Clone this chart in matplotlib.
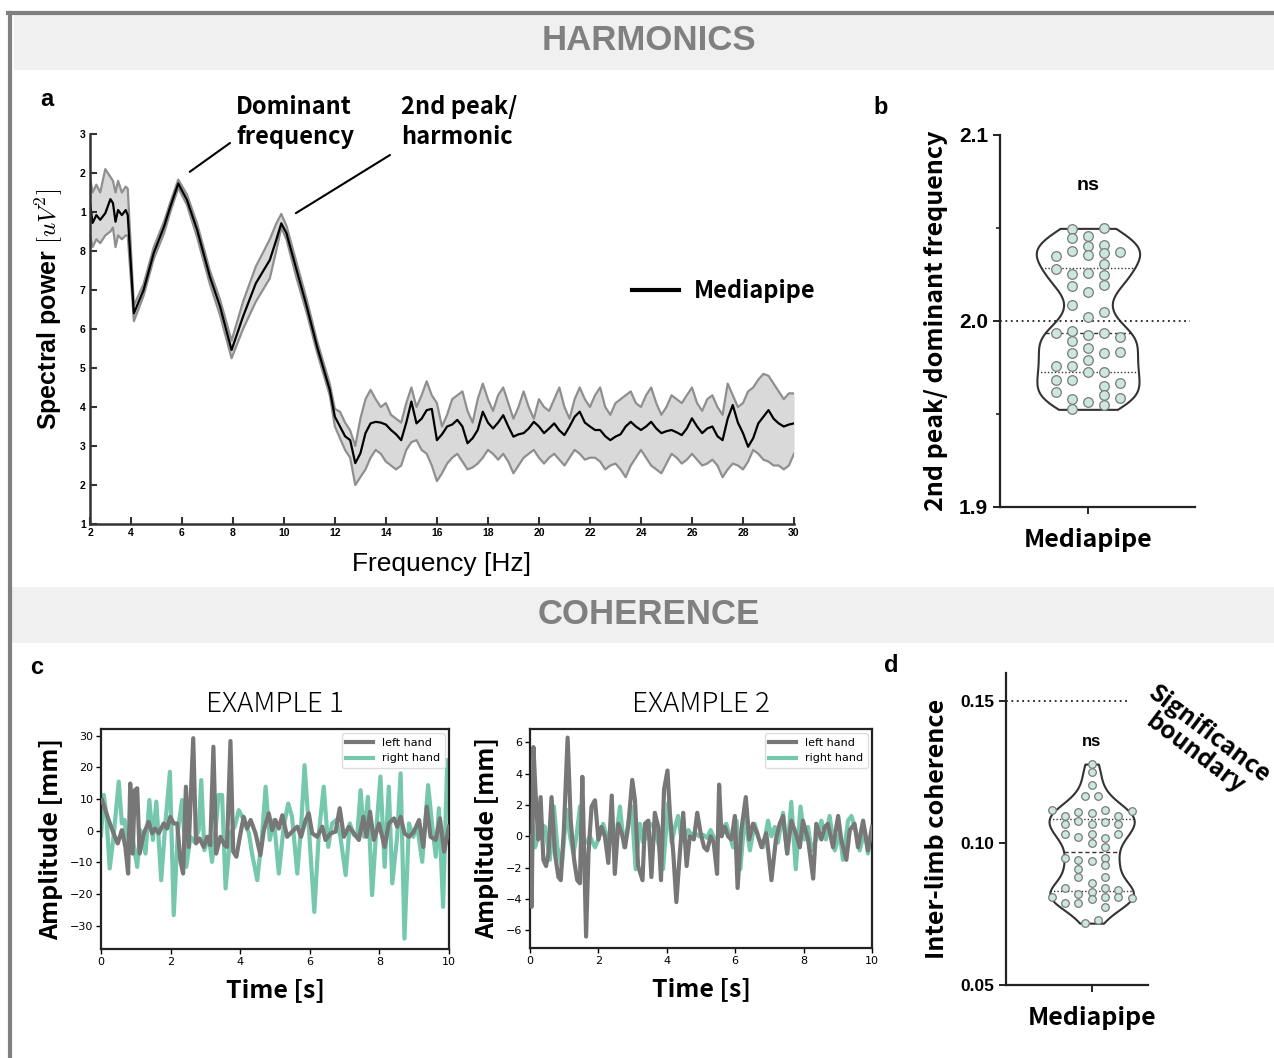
import numpy as np
import matplotlib
matplotlib.use("Agg")
import matplotlib.pyplot as plt
from matplotlib.patches import Rectangle
from matplotlib.lines import Line2D

# ---------------- data ----------------
# panel a: spectral power (mean and shaded band)
FREQ = [2.4, 2.5, 2.65, 2.8, 3.0, 3.2, 3.3, 3.4, 3.5, 3.65, 3.8, 3.88,
        4.12, 4.5, 4.9, 5.3, 5.55, 5.86, 6.2, 6.6, 7.1, 7.5, 7.95,
        8.4, 8.9, 9.45, 9.7, 9.9, 10.1, 10.5, 10.9, 11.3, 11.8,
        12.0, 12.2, 12.4, 12.6, 12.8, 13.0, 13.2, 13.4, 13.6, 13.8,
        14.0, 14.2, 14.4, 14.6, 14.8, 15.0, 15.2, 15.4, 15.6, 15.8,
        16.0, 16.2, 16.4, 16.6, 16.8, 17.0, 17.2, 17.4, 17.6, 17.8,
        18.0, 18.2, 18.4, 18.6, 18.8, 19.0, 19.2, 19.4, 19.6, 19.8,
        20.0, 20.2, 20.4, 20.6, 20.8, 21.0, 21.2, 21.4, 21.6, 21.8,
        22.0, 22.2, 22.4, 22.6, 22.8, 23.0, 23.2, 23.4, 23.6, 23.8,
        24.0, 24.2, 24.4, 24.6, 24.8, 25.0, 25.2, 25.4, 25.6, 25.8,
        26.0, 26.2, 26.4, 26.6, 26.8, 27.0, 27.2, 27.4, 27.6, 27.8,
        28.0, 28.2, 28.4, 28.6, 28.8, 29.0, 29.2, 29.4, 29.6, 29.8, 30.0]
POWER_MEAN = [9.23, 8.72, 8.92, 8.8, 8.97, 9.33, 9.23, 8.75, 9.05, 8.92, 9.05, 8.92,
              6.4, 7.0, 7.95, 8.62, 9.14, 9.73, 9.31, 8.54, 7.34, 6.57, 5.46,
              6.32, 7.17, 7.77, 8.28, 8.71, 8.46, 7.51, 6.57, 5.55, 4.44,
              3.75, 3.5, 3.25, 3.15, 2.56, 2.81, 3.33, 3.58, 3.62, 3.6,
              3.55, 3.41, 3.3, 3.15, 3.6, 4.14, 3.58, 3.7, 3.92, 3.95,
              3.15, 3.3, 3.5, 3.55, 3.67, 3.5, 3.07, 3.2, 3.41, 3.88,
              3.6, 3.45, 3.6, 3.79, 3.5, 3.24, 3.3, 3.33, 3.45, 3.62,
              3.5, 3.33, 3.45, 3.58, 3.4, 3.28, 3.5, 3.75, 3.88, 3.6,
              3.5, 3.41, 3.41, 3.25, 3.15, 3.24, 3.3, 3.5, 3.62, 3.5,
              3.41, 3.5, 3.62, 3.45, 3.33, 3.38, 3.41, 3.35, 3.28, 3.45,
              3.71, 3.5, 3.33, 3.45, 3.5, 3.25, 3.15, 3.7, 4.05, 3.6,
              3.33, 2.98, 3.2, 3.58, 3.75, 3.92, 3.7, 3.58, 3.5, 3.55, 3.58]
POWER_UPPER = [9.9, 9.5, 9.7, 9.5, 10.1, 9.9, 9.8, 9.5, 9.8, 9.5, 9.65, 9.6,
               6.6, 7.15, 8.1, 8.75, 9.25, 9.83, 9.45, 8.7, 7.5, 6.75, 5.7,
               6.7, 7.6, 8.3, 8.7, 8.95, 8.65, 7.7, 6.75, 5.7, 4.6,
               3.95, 3.88, 3.6, 3.4, 3.0, 3.7, 4.2, 4.44, 4.2, 4.0,
               4.1, 3.8, 3.7, 3.6, 4.1, 4.5, 4.0, 4.3, 4.66, 4.3,
               4.1, 3.5, 3.8, 4.2, 4.3, 4.4, 3.9, 3.6, 4.2, 4.6,
               4.2, 3.9, 4.3, 4.5, 4.1, 3.7, 4.0, 4.4, 4.0, 3.7,
               4.2, 4.0, 3.9, 4.2, 4.5, 4.0, 3.7, 4.2, 4.5, 4.2,
               4.0, 4.3, 4.5, 4.0, 3.8, 4.1, 4.2, 4.3, 4.4, 4.1,
               4.0, 4.3, 4.5, 4.1, 3.8, 4.0, 4.3, 4.2, 4.1, 4.3,
               4.5, 4.1, 3.9, 4.2, 4.3, 4.0, 3.8, 4.6, 4.3, 4.0,
               4.1, 4.4, 4.5, 4.7, 4.85, 4.8, 4.6, 4.4, 4.2, 4.35, 4.35]
POWER_LOWER = [8.4, 8.1, 8.3, 8.2, 8.4, 8.5, 8.6, 8.1, 8.4, 8.3, 8.4, 8.4,
               6.2, 6.85, 7.8, 8.45, 9.0, 9.62, 9.18, 8.35, 7.15, 6.35, 5.25,
               6.0, 6.7, 7.3, 8.0, 8.6, 8.3, 7.3, 6.4, 5.4, 4.3,
               3.5, 3.2, 2.9, 2.7, 2.0, 2.2, 2.4, 2.7, 2.9, 2.8,
               2.6, 2.5, 2.4, 2.5, 2.9, 3.1, 3.15, 2.9, 2.8, 2.5,
               2.1, 2.3, 2.55, 2.7, 2.8, 2.6, 2.4, 2.45, 2.55, 2.7,
               2.9, 2.8, 2.65, 2.8, 2.6, 2.3, 2.5, 2.7, 2.8, 2.9,
               2.7, 2.55, 2.7, 2.8, 2.65, 2.5, 2.7, 2.9, 2.8, 2.65,
               2.7, 2.7, 2.6, 2.4, 2.5, 2.55, 2.4, 2.2, 2.5, 2.7,
               2.9, 2.7, 2.5, 2.4, 2.3, 2.55, 2.8, 2.7, 2.55, 2.65,
               2.8, 2.65, 2.5, 2.55, 2.65, 2.5, 2.2, 2.4, 2.55, 2.5,
               2.4, 2.6, 2.9, 2.8, 2.65, 2.6, 2.5, 2.5, 2.4, 2.5, 2.8]
A_YTICKS = [1, 2, 3, 4, 5, 6, 7, 8, 9, 10, 11]
A_YLABELS = ["1", "2", "3", "4", "5", "6", "7", "8", "1", "2", "3"]
A_XTICKS = [2.4] + list(range(4, 31, 2))
A_XLABELS = [str(v) for v in range(2, 31, 2)]

# panel b: ratio 2nd peak / dominant frequency, per swarm column
B_COLS = [-2, -1, 0, 1, 2]
B_VALUES = [
    [2.0351, 2.0278, 1.9934, 1.9758, 1.9683, 1.9620],
    [2.0493, 2.0444, 2.0378, 2.0251, 2.0188, 2.0088, 1.9948, 1.9894, 1.9826,
     1.9760, 1.9683, 1.9581, 1.9525],
    [2.0459, 2.0403, 2.0355, 2.0260, 2.0158, 2.0023, 1.9925, 1.9857, 1.9790,
     1.9728, 1.9565],
    [2.0498, 2.0409, 2.0367, 2.0306, 2.0247, 2.0194, 2.0050, 1.9937, 1.9826,
     1.9728, 1.9652, 1.9604, 1.9550],
    [2.0369, 1.9916, 1.9835, 1.9665, 1.9588],
]

# panel c: example traces (time in s, amplitude in mm)
EX1_LEFT_T = [0.03, 0.22, 0.36, 0.48, 0.60, 0.70, 0.78, 0.84, 0.91, 0.97, 1.04, 1.11,
              1.23, 1.37, 1.47, 1.56, 1.66, 1.80, 1.90, 1.99, 2.09, 2.19, 2.28, 2.36,
              2.44, 2.52, 2.65, 2.73, 2.83, 2.95, 3.05, 3.14, 3.23, 3.31, 3.43, 3.55,
              3.62, 3.72, 3.80, 3.89, 3.99, 4.10, 4.20, 4.30, 4.44, 4.58, 4.68, 4.82,
              4.92, 5.01, 5.11, 5.21, 5.35, 5.49, 5.64, 5.75, 5.88, 5.97, 6.07, 6.21,
              6.36, 6.45, 6.60, 6.74, 6.86, 6.98, 7.12, 7.27, 7.41, 7.54, 7.63, 7.73,
              7.84, 7.99, 8.15, 8.27, 8.42, 8.51, 8.61, 8.72, 8.85, 8.99, 9.14, 9.26,
              9.36, 9.47, 9.62, 9.74, 9.86, 10.0]
EX1_LEFT_V = [9.7, 3.4, -0.8, -4.0, 0.2, -5.1, -13.5, 14.9, -7.2, 12.8, 13.4, -7.2,
              -0.8, 2.8, -0.8, 0.7, -0.8, 2.3, 0.7, 4.4, 2.3, 2.3, -9.3, -13.5,
              13.9, -5.1, 29.2, -4.0, -2.4, -5.1, -1.9, -4.5, 26.5, -7.2, -1.9, -4.5,
              -5.1, 28.3, -6.6, -8.2, -1.9, 4.4, 0.7, 3.4, -0.8, -7.7, 0.2, 5.5,
              0.2, 3.4, 0.7, 4.9, -1.9, -0.3, 1.3, -1.9, 3.4, 5.5, -0.8, -1.9,
              1.3, -2.9, -0.8, -0.3, 7.1, -1.9, 1.3, -0.8, -2.9, 4.4, -1.9, 6.0,
              -2.9, 2.3, -5.1, 2.3, 3.9, 1.3, 4.4, -0.8, -1.9, -0.3, 3.4, -5.1,
              7.6, -1.9, -2.9, 3.9, -6.6, 1.3]
EX1_RIGHT_T = [0.0, 0.08, 0.15, 0.25, 0.36, 0.51, 0.60, 0.68, 0.75, 0.87, 1.04, 1.13,
               1.28, 1.39, 1.49, 1.59, 1.73, 1.85, 1.98, 2.09, 2.21, 2.33, 2.45, 2.57,
               2.68, 2.81, 2.88, 2.97, 3.10, 3.19, 3.29, 3.38, 3.48, 3.58, 3.72, 3.84,
               3.96, 4.10, 4.25, 4.34, 4.49, 4.63, 4.73, 4.85, 4.97, 5.11, 5.25, 5.38,
               5.49, 5.64, 5.75, 5.85, 5.97, 6.13, 6.26, 6.40, 6.53, 6.64, 6.76, 6.88,
               7.03, 7.15, 7.27, 7.36, 7.46, 7.56, 7.67, 7.79, 7.91, 8.03, 8.15, 8.27,
               8.37, 8.51, 8.61, 8.72, 8.85, 8.97, 9.09, 9.23, 9.40, 9.52, 9.62, 9.71,
               9.83, 9.95, 10.0]
EX1_RIGHT_V = [-1.4, 11.3, 5.5, -11.9, -1.9, 15.5, 2.3, 3.4, -6.1, 0.2, -11.4, 0.2,
               -7.2, 9.7, -2.9, 9.2, -15.6, 2.3, 18.6, -26.6, 0.2, 9.7, -11.4, -1.9,
               -3.5, 0.2, 16.0, -6.1, -1.9, -9.8, 0.2, 11.3, 11.3, -18.2, -0.8, 1.3,
               6.5, 3.4, -0.8, -7.2, -15.6, -1.4, 13.9, -2.9, 3.4, -13.5, 1.3, 8.6,
               4.4, -13.5, 1.3, 20.7, 1.3, -25.6, -0.8, 13.9, -5.1, 2.3, 3.4, -1.9,
               -14.0, 2.3, -1.4, -1.9, 12.8, -1.9, 10.7, -20.3, 0.2, 17.1, -11.4, 13.9,
               -16.6, -1.9, 18.1, -34.0, 2.3, -1.9, 1.3, -9.8, 14.4, 1.3, -8.2, 7.1,
               -24.0, 22.3, 13.4]
EX2_LEFT_T = [0.0, 0.05, 0.10, 0.17, 0.24, 0.31, 0.39, 0.47, 0.54, 0.63, 0.73, 0.83,
              0.90, 0.99, 1.10, 1.19, 1.29, 1.38, 1.46, 1.53, 1.58, 1.64, 1.71, 1.80,
              1.90, 2.00, 2.09, 2.19, 2.29, 2.39, 2.48, 2.58, 2.68, 2.78, 2.87, 2.99,
              3.07, 3.16, 3.29, 3.36, 3.46, 3.55, 3.65, 3.75, 3.83, 3.92, 4.02, 4.09,
              4.19, 4.28, 4.38, 4.48, 4.58, 4.67, 4.79, 4.89, 4.99, 5.09, 5.18, 5.28,
              5.37, 5.47, 5.53, 5.60, 5.70, 5.79, 5.89, 5.99, 6.07, 6.18, 6.31, 6.41,
              6.52, 6.64, 6.77, 6.91, 7.06, 7.19, 7.30, 7.40, 7.52, 7.64, 7.77, 7.89,
              7.98, 8.13, 8.28, 8.37, 8.52, 8.62, 8.71, 8.86, 9.01, 9.10, 9.25, 9.35,
              9.49, 9.59, 9.74, 9.88, 10.0]
EX2_LEFT_V = [0.0, -4.5, 5.7, 2.5, -0.2, 2.5, -1.5, -1.9, -1.1, 2.5, -1.1, -2.6,
              -2.8, 0.4, 6.3, 1.0, -1.5, -2.8, -3.0, 3.8, -0.7, -6.4, -1.1, 1.9,
              2.3, -0.2, 0.6, 0.0, -1.7, 2.6, -2.4, 0.8, 0.2, -0.7, 0.6, 3.6,
              2.3, -1.9, -2.8, 0.8, 1.0, -2.6, 1.5, 0.6, -2.8, 3.0, 4.2, 1.5,
              -1.1, -4.2, -1.1, 1.5, -1.9, 0.0, -0.2, 1.5, 0.2, -0.7, -0.9, 0.0,
              -0.4, -2.4, 3.3, 0.0, 0.6, 0.0, -0.2, 1.3, -3.3, 0.4, 2.5, -0.2,
              0.8, 0.2, -0.7, 0.2, -2.8, -0.2, 0.8, 1.3, -1.1, 1.0, 0.2, -0.7,
              1.0, -0.2, -2.7, 0.8, -0.2, 0.6, 0.8, -0.7, 1.3, -0.2, -1.5, 0.4,
              0.8, -0.7, 1.0, -0.9, 0.6]
EX2_RIGHT_T = [0.0, 0.05, 0.15, 0.24, 0.31, 0.44, 0.58, 0.70, 0.80, 0.93, 1.07, 1.17,
               1.27, 1.36, 1.46, 1.56, 1.66, 1.75, 1.90, 2.00, 2.14, 2.24, 2.34, 2.48,
               2.63, 2.75, 2.87, 2.97, 3.09, 3.21, 3.31, 3.41, 3.51, 3.63, 3.78, 3.89,
               4.04, 4.14, 4.24, 4.33, 4.43, 4.53, 4.63, 4.72, 4.82, 4.95, 5.06, 5.18,
               5.28, 5.40, 5.50, 5.65, 5.74, 5.84, 5.94, 6.04, 6.15, 6.28, 6.43, 6.57,
               6.70, 6.82, 6.96, 7.06, 7.16, 7.25, 7.40, 7.52, 7.64, 7.77, 7.91, 8.03,
               8.13, 8.23, 8.37, 8.52, 8.65, 8.76, 8.91, 9.06, 9.15, 9.30, 9.40, 9.54,
               9.64, 9.79, 9.88, 10.0]
EX2_RIGHT_V = [0.0, 1.5, -0.7, 0.0, 0.8, 0.6, -1.5, 1.9, -0.7, -1.9, 1.7, 0.0,
               -1.1, 0.0, 1.9, -0.4, -0.4, 0.0, -0.7, -0.2, 0.8, 0.0, 0.2, -0.7,
               1.9, -0.7, 0.8, 1.9, -2.1, 0.8, -0.4, 0.0, 0.8, 0.6, -0.7, -2.1,
               2.1, -0.4, 0.6, 1.3, -0.2, 0.0, 0.4, 0.1, 0.2, 0.0, 0.1, -0.1,
               0.4, -0.2, 0.0, 0.6, 0.8, 0.0, -0.7, 1.0, -2.1, 1.3, -0.9, 0.8,
               -0.2, -0.7, 1.0, 0.0, 0.6, -0.4, 1.5, -1.1, 2.2, -2.1, 1.9, -0.2,
               0.6, -0.9, -0.2, 1.0, -0.2, 1.3, -0.9, 0.2, -1.5, 1.0, 1.3, 0.2,
               -0.9, 0.4, -1.1, 0.4]

# panel d: inter-limb coherence per swarm column
D_COLS = [-3, -2, -1, -0.5, 0, 0.5, 1, 2, 3]
D_VALUES = [
    [0.1116, 0.0811],
    [0.1097, 0.1067, 0.1032, 0.0949, 0.0843, 0.0788],
    [0.1109, 0.1079, 0.1022, 0.0940, 0.0909, 0.0882, 0.0820, 0.0788],
    [0.1165, 0.0718],
    [0.1279, 0.1251, 0.1206, 0.1106, 0.1069, 0.1034, 0.1002, 0.0936, 0.0861,
     0.0827, 0.0802],
    [0.1167, 0.0729],
    [0.1116, 0.1075, 0.1018, 0.0986, 0.0949, 0.0923, 0.0880, 0.0843, 0.0809,
     0.0776],
    [0.1097, 0.1067, 0.1032, 0.0835, 0.0809],
    [0.1114, 0.0806],
]
SIG_BOUNDARY = 0.15

# ---------------- style ----------------
CJK = ["Noto Sans CJK JP", "DejaVu Sans"]
ARIAL = ["Liberation Sans", "DejaVu Sans"]
plt.rcParams["mathtext.fontset"] = "cm"
GREY_LINE = "#777777"
TEAL = "#66c2a5"
DOT_FACE = "#cce8de"
DOT_EDGE = "#7a7a7a"

W, H = 1274, 1058
fig = plt.figure(figsize=(W / 100, H / 100), dpi=100)


def fx(px):
    return px / W


def fy(py):
    return 1 - py / H


# frame and section bands
fig.patches.append(Rectangle((fx(14), fy(70)), 1, fy(15) - fy(70), transform=fig.transFigure,
                             facecolor="#f0f0f0", edgecolor="none", zorder=0))
fig.patches.append(Rectangle((fx(10), fy(643)), 1, fy(587) - fy(643), transform=fig.transFigure,
                             facecolor="#f0f0f0", edgecolor="none", zorder=0))
fig.lines.append(Line2D([fx(8), 1], [fy(13), fy(13)], transform=fig.transFigure,
                        color="#808080", lw=3))
fig.lines.append(Line2D([fx(10), fx(10)], [0, fy(13)], transform=fig.transFigure,
                        color="#808080", lw=3))
fig.text(fx(649), fy(41), "HARMONICS", ha="center", va="center", color="#808080",
         fontsize=25, fontweight="bold", family=ARIAL)
fig.text(fx(649), fy(614), "COHERENCE", ha="center", va="center", color="#808080",
         fontsize=25, fontweight="bold", family=ARIAL)

for lab, px, py in [("a", 47, 100), ("b", 881, 108), ("c", 37, 668), ("d", 891, 666)]:
    fig.text(fx(px), fy(py), lab, ha="center", va="center", fontsize=17,
             fontweight="bold", family=ARIAL)

# ---------------- panel a ----------------
axa = fig.add_axes([fx(90), fy(524), fx(794) - fx(90), fy(134) - fy(524)])
axa.fill_between(FREQ, POWER_LOWER, POWER_UPPER, color="#d9d9d9", lw=0)
axa.plot(FREQ, POWER_UPPER, color="#8f8f8f", lw=1.6)
axa.plot(FREQ, POWER_LOWER, color="#8f8f8f", lw=1.6)
axa.plot(FREQ, POWER_MEAN, color="black", lw=1.6)
axa.set_xlim(2.4, 30)
axa.set_ylim(1, 11)
axa.set_xticks(A_XTICKS)
axa.set_xticklabels(A_XLABELS)
axa.set_yticks(A_YTICKS)
axa.set_yticklabels(A_YLABELS)
for s in ["top", "right"]:
    axa.spines[s].set_visible(False)
for s in ["left", "bottom"]:
    axa.spines[s].set_linewidth(1.8)
    axa.spines[s].set_color("#333333")
axa.tick_params(direction="in", length=5, width=1.5, color="#333333", pad=3)
for t in axa.get_xticklabels() + axa.get_yticklabels():
    t.set_fontsize(7.5)
    t.set_fontweight("bold")
    t.set_family(ARIAL)
axa.set_xlabel("Frequency [Hz]", fontsize=19, family=ARIAL, labelpad=10)
axa.set_ylabel(r"Spectral power $[uV^2]$", fontsize=18, fontweight="bold", family=ARIAL)
axa.yaxis.set_label_coords(-0.036, 0.55)
axa.legend([Line2D([0], [0], color="black", lw=3)], ["Mediapipe"],
           loc="center left", bbox_to_anchor=(0.77, 0.597), frameon=False,
           handlelength=2.0, handletextpad=0.6, borderpad=0, borderaxespad=0,
           prop={"family": CJK, "weight": "bold", "size": 17})

fig.text(fx(236), fy(95), "Dominant\nfrequency", ha="left", va="top", fontsize=17,
         fontweight="bold", family=CJK, linespacing=1.3)
fig.text(fx(401), fy(95), "2nd peak/\nharmonic", ha="left", va="top", fontsize=17,
         fontweight="bold", family=CJK, linespacing=1.3)
axa.annotate("", xy=(6.31, 10.03), xytext=(fx(230), fy(143)), textcoords="figure fraction",
             arrowprops=dict(arrowstyle="-", color="black", lw=1.5, shrinkA=0, shrinkB=0),
             annotation_clip=False)
axa.annotate("", xy=(10.47, 8.97), xytext=(fx(390), fy(155)), textcoords="figure fraction",
             arrowprops=dict(arrowstyle="-", color="black", lw=1.5, shrinkA=0, shrinkB=0),
             annotation_clip=False)


# ---------------- violin helper ----------------
def violin(ax, cols, values, step, h, half, dot_size):
    vals = np.concatenate([np.asarray(v) for v in values])
    grid = np.linspace(vals.min(), vals.max(), 300)
    dens = np.exp(-0.5 * ((grid[:, None] - vals[None, :]) / h) ** 2).sum(axis=1)
    hw = dens / dens.max() * half
    ax.fill_betweenx(grid, -hw, hw, facecolor="white", edgecolor="#333333", lw=1.5, zorder=2)
    q1, q2, q3 = np.percentile(vals, [25, 50, 75])
    for q, ls in [(q1, (0, (1, 1.5))), (q2, (0, (3, 2))), (q3, (0, (1, 1.5)))]:
        w = np.interp(q, grid, hw)
        ax.plot([-w, w], [q, q], color="#333333", lw=1.0, ls=ls, zorder=3)
    for c, v in zip(cols, values):
        ax.scatter(np.full(len(v), c * step), v, s=dot_size, facecolor=DOT_FACE,
                   edgecolor=DOT_EDGE, lw=0.9, zorder=4)


def style_prism(ax):
    for s in ["top", "right"]:
        ax.spines[s].set_visible(False)
    for s in ["left", "bottom"]:
        ax.spines[s].set_linewidth(1.6)
        ax.spines[s].set_color("#222222")
    ax.tick_params(direction="out", length=5, width=1.4, color="#222222")
    ax.tick_params(axis="x", pad=10)
    ax.tick_params(which="minor", direction="out", length=3, width=1.2, color="#222222")


# ---------------- panel b ----------------
axb = fig.add_axes([fx(1000), fy(507), fx(1195) - fx(1000), fy(135) - fy(507)])
violin(axb, B_COLS, B_VALUES, step=0.081, h=0.0075, half=0.265, dot_size=48)
axb.axhline(2.0, xmin=0, xmax=0.975, color="#222222", lw=1.3, ls=(0, (1, 2)), zorder=3)
axb.set_xlim(-0.451, 0.549)
axb.set_ylim(1.9, 2.1)
axb.set_yticks([1.9, 2.0, 2.1])
axb.set_yticks([1.95, 2.05], minor=True)
axb.set_yticklabels(["1.9", "2.0", "2.1"])
axb.set_xticks([0])
axb.set_xticklabels(["Mediapipe"])
style_prism(axb)
for t in axb.get_yticklabels():
    t.set_fontsize(15)
    t.set_fontweight("bold")
    t.set_family(ARIAL)
for t in axb.get_xticklabels():
    t.set_fontsize(18)
    t.set_fontweight("bold")
    t.set_family(CJK)
axb.set_ylabel("2nd peak/ dominant frequency", fontsize=18, fontweight="bold",
               family=CJK, labelpad=8)
axb.text(0, 2.073, "ns", ha="center", va="center", fontsize=14, fontweight="bold",
         family=ARIAL)

# ---------------- panel c ----------------
def example(ax, title, lt, lv, rt, rv, ylim, yticks):
    ax.plot(lt, lv, color=GREY_LINE, lw=3, label="left hand", zorder=3)
    ax.plot(rt, rv, color=TEAL, lw=3, alpha=0.9, label="right hand", zorder=2)
    ax.set_xlim(0, 10)
    ax.set_ylim(*ylim)
    ax.set_yticks(yticks)
    ax.set_xticks([0, 2, 4, 6, 8, 10])
    for s in ax.spines.values():
        s.set_linewidth(1.6)
        s.set_color("#222222")
    ax.tick_params(direction="out", length=3.5, width=1, labelsize=8, pad=2)
    ax.set_title(title, fontsize=20, family=CJK, fontweight="light", pad=12)
    ax.set_xlabel("Time [s]", fontsize=18, fontweight="bold", family=CJK, labelpad=8)
    ax.set_ylabel("Amplitude [mm]", fontsize=18, fontweight="bold", family=CJK, labelpad=5)
    ax.legend(loc="upper right", fontsize=8, handlelength=2.4, borderaxespad=0.4,
              framealpha=1, edgecolor="#dddddd", fancybox=True)


axc1 = fig.add_axes([fx(101), fy(949), fx(449) - fx(101), fy(729) - fy(949)])
example(axc1, "EXAMPLE 1", EX1_LEFT_T, EX1_LEFT_V, EX1_RIGHT_T, EX1_RIGHT_V,
        (-37.3, 32.1), [-30, -20, -10, 0, 10, 20, 30])
axc2 = fig.add_axes([fx(530), fy(948), fx(872) - fx(530), fy(729) - fy(948)])
example(axc2, "EXAMPLE 2", EX2_LEFT_T, EX2_LEFT_V, EX2_RIGHT_T, EX2_RIGHT_V,
        (-7.13, 6.85), [-6, -4, -2, 0, 2, 4, 6])

# ---------------- panel d ----------------
axd = fig.add_axes([fx(1006), fy(985), fx(1148) - fx(1006), fy(673) - fy(985)])
violin(axd, D_COLS, D_VALUES, step=0.094, h=0.0045, half=0.30, dot_size=30)
axd.axhline(SIG_BOUNDARY, xmin=0, xmax=0.85, color="#222222", lw=1.3, ls=(0, (1, 2)))
axd.set_xlim(-0.603, 0.397)
axd.set_ylim(0.05, 0.16)
axd.set_yticks([0.05, 0.10, 0.15])
axd.set_yticklabels(["0.05", "0.10", "0.15"])
axd.set_xticks([0])
axd.set_xticklabels(["Mediapipe"])
style_prism(axd)
for t in axd.get_yticklabels():
    t.set_fontsize(12.5)
    t.set_fontweight("bold")
    t.set_family(ARIAL)
for t in axd.get_xticklabels():
    t.set_fontsize(18)
    t.set_fontweight("bold")
    t.set_family(CJK)
axd.set_ylabel("Inter-limb coherence", fontsize=18, fontweight="bold", family=CJK,
               labelpad=8)
axd.text(0, 0.1358, "ns", ha="center", va="center", fontsize=12, fontweight="bold",
         family=ARIAL)
fig.text(fx(1202), fy(744), "Significance\nboundary", ha="center", va="center",
         rotation=-37, rotation_mode="anchor", fontsize=17.5, fontweight="bold",
         family=CJK, linespacing=1.0)

fig.savefig("out.png", dpi=100)
